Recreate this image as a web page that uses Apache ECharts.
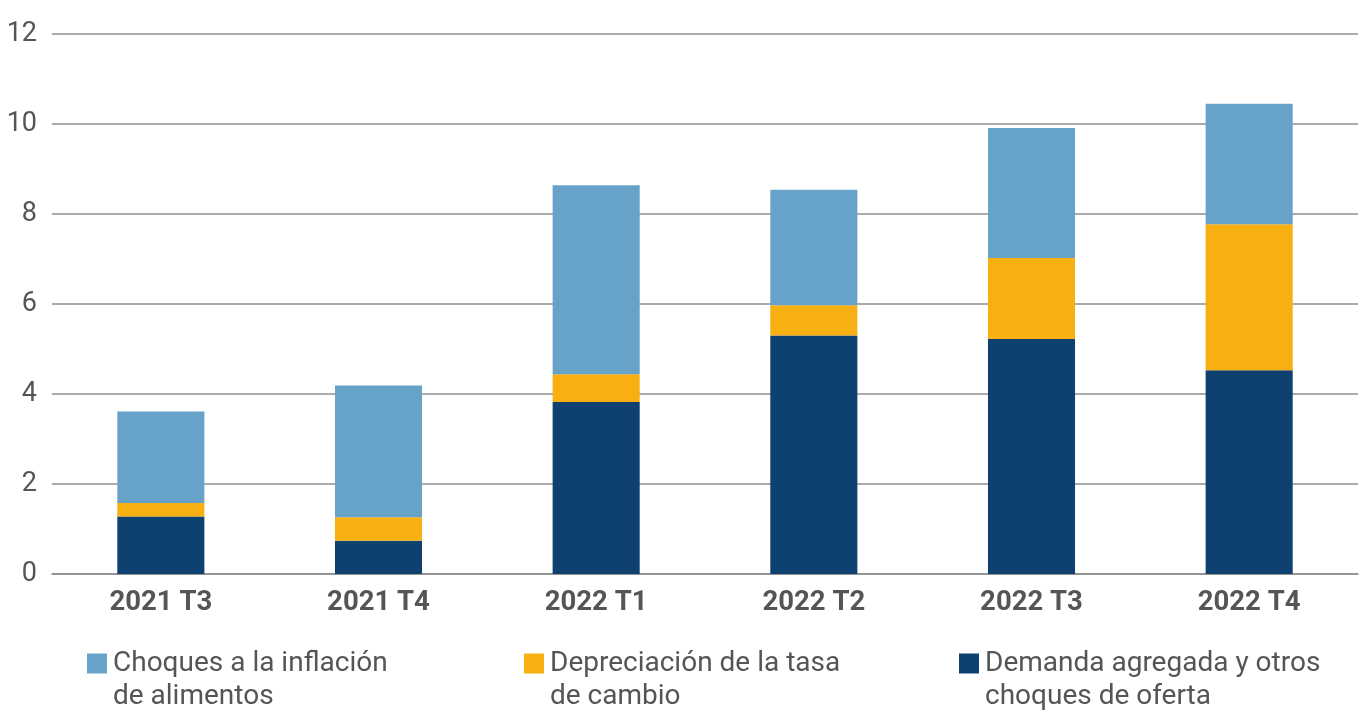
<!DOCTYPE html>
<html>
<head>
<meta charset="utf-8">
<script src="https://cdn.jsdelivr.net/npm/echarts@6/dist/echarts.min.js"></script>
<style>html,body{margin:0;padding:0;background:#fff}#c{width:1360px;height:728px}</style>
</head>
<body>
<div id="c"></div>
<script>
const categories = ['2021 T3', '2021 T4', '2022 T1', '2022 T2', '2022 T3', '2022 T4'];
const demanda = [1.28, 0.74, 3.82, 5.30, 5.22, 4.53];
const depreciacion = [0.30, 0.52, 0.62, 0.67, 1.80, 3.24];
const alimentos = [2.03, 2.93, 4.20, 2.57, 2.89, 2.68];
const yTicks = { min: 0, max: 12, interval: 2 };
const names = ['Choques a la inflación\nde alimentos', 'Depreciación de la tasa\nde cambio', 'Demanda agregada y otros\nchoques de oferta'];

const colors = ['#67A3C9', '#F7AF12', '#0F4170'];
const font = 'Roboto, "Noto Sans", sans-serif';
const iconPath = 'path://M0,0L20,0L20,20L0,20Z M0,53L0.01,53L0,53Z';
const legendLeft = [82, 519, 954];

const chart = echarts.init(document.getElementById('c'));
chart.setOption({
  animation: false,
  grid: { left: 52, right: 2, top: 34, bottom: 154 },
  xAxis: {
    type: 'category',
    data: categories,
    axisTick: { show: false },
    axisLine: { show: true, lineStyle: { color: '#8f8f8f', width: 1.5 } },
    axisLabel: { color: '#555555', fontFamily: font, fontSize: 27.5, fontWeight: 'bold', margin: 15 }
  },
  yAxis: {
    type: 'value',
    min: yTicks.min, max: yTicks.max, interval: yTicks.interval,
    axisLine: { show: false },
    axisTick: { show: false },
    splitLine: { lineStyle: { color: '#8f8f8f', width: 1.5 } },
    axisLabel: { color: '#555555', fontFamily: font, fontSize: 27, margin: 15 }
  },
  legend: names.map((n, i) => ({
    data: [n],
    left: legendLeft[i],
    top: 642,
    orient: 'horizontal',
    itemWidth: 20,
    itemHeight: 53,
    itemGap: 11,
    icon: iconPath,
    selectedMode: false,
    textStyle: { color: '#555555', fontFamily: font, fontSize: 28, lineHeight: 33, padding: [0, 0, 0, 1] }
  })),
  series: [
    { name: names[2], type: 'bar', stack: 's', data: demanda, barWidth: '40%', itemStyle: { color: colors[2] } },
    { name: names[1], type: 'bar', stack: 's', data: depreciacion, barWidth: '40%', itemStyle: { color: colors[1] } },
    { name: names[0], type: 'bar', stack: 's', data: alimentos, barWidth: '40%', itemStyle: { color: colors[0] } }
  ]
});
</script>
</body>
</html>
